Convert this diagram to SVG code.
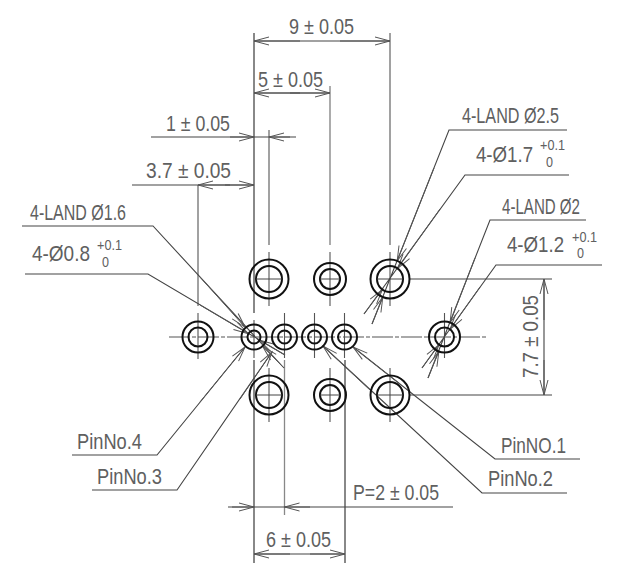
<svg xmlns="http://www.w3.org/2000/svg" width="620" height="574" viewBox="0 0 620 574">
<style>
text{font-family:"Liberation Sans",Arial,sans-serif;font-size:21.500px;fill:#606060}
.s{font-size:14.500px}
.o{fill:none;stroke:#111;stroke-width:2}
.c{fill:none;stroke:#444;stroke-width:1}
.l{fill:none;stroke:#444;stroke-width:1.1}
.e{fill:none;stroke:#888;stroke-width:2}
.d{fill:none;stroke:#555;stroke-width:1.1}
.a{fill:none;stroke:#555;stroke-width:1;marker-end:url(#h)}
</style>
<defs>
<marker id="h" markerUnits="userSpaceOnUse" markerWidth="20" markerHeight="12" refX="16" refY="6" orient="auto" overflow="visible"><path d="M1 2 L16 6 L1 10" fill="none" stroke="#555" stroke-width="1"/></marker>
</defs>
<g id="connectors">
<path class="d" d="M390 33V245M390 252V306"/>
<path class="e" d="M330 86V245" style="stroke-width:1.4"/>
<path class="d" d="M330 252V306M330 368V422M269 130V245M269 252V306M269 368V422M390 368V422"/>
<path class="e" d="M254 33V313M254 360V563M345 360V563"/>
<path class="e" d="M284.500 360V515" style="stroke-width:1.3"/>
<path class="d" d="M198 185V306M198 313V359M254 320V358M284.500 313V358M314.500 313V358M344.500 313V358M444.500 313V358"/>
<path class="d" d="M169 337H486" stroke-dasharray="21 2 4 2"/>
<path class="l" d="M254 41H390M254 93H330M151 137H296M132 185H254M228 507H453M254 554H345M410 279H552M410 395H552M544 279V395"/>
<path class="a" d="M300 41H254"/><path class="a" d="M340 41H390"/>
<path class="a" d="M300 93H254"/><path class="a" d="M290 93H330"/>
<path class="a" d="M230 137H254"/><path class="a" d="M290 137H269"/>
<path class="a" d="M230 185H198"/><path class="a" d="M225 185H254"/>
<path class="a" d="M232 507H254"/><path class="a" d="M310 507H284.500"/>
<path class="a" d="M290 554H254"/><path class="a" d="M310 554H345"/>
<path class="a" d="M544 320V279"/><path class="a" d="M544 360V395"/>
<path class="l" d="M567 130H449L372 324M569 175H465L364 314"/>
<path class="l" d="M586 220H490L428 378M602 265H496L422 368"/>
<path class="l" d="M22 226H153L284 368M25 274H148L285 355"/>
<path class="l" d="M72 455H157L245 347M92 490H177L272 352"/>
<path class="l" d="M580 459H495L353 347M567 493H482L323 346"/>
<path class="a" d="M434 168L397.200 260.900"/><path class="a" d="M372 324L382.800 297.100"/>
<path class="a" d="M440 209L397.600 268.500"/><path class="a" d="M364 314L382.400 289.500"/>
<path class="a" d="M475 258L450.100 322.600"/><path class="a" d="M428 378L438.900 351.400"/>
<path class="a" d="M480 287L450 329.300"/><path class="a" d="M422 368L439 344.700"/>
<path class="a" d="M200 277L245.200 327.400"/><path class="a" d="M284 368L262.800 346.600"/>
<path class="a" d="M200 305L248.400 333.700"/><path class="a" d="M285 355L259.600 340.300"/>
<path class="a" d="M200 402L245 347"/><path class="a" d="M240 399L272 352"/>
<path class="a" d="M400 384L353 347"/><path class="a" d="M370 390L323 346"/>
</g>
<g id="pad-top-left"><circle class="o" cx="269" cy="279" r="19.500"/><circle class="o" cx="269" cy="279" r="13"/><path class="c" d="M256 279H282"/></g>
<g id="pad-top-mid"><circle class="o" cx="330" cy="279" r="16"/><circle class="o" cx="330" cy="279" r="10"/><path class="c" d="M320 279H340"/></g>
<g id="pad-top-right"><circle class="o" cx="390" cy="279" r="19.500"/><circle class="o" cx="390" cy="279" r="13"/><path class="c" d="M377 279H403"/></g>
<g id="pad-bottom-left"><circle class="o" cx="269" cy="395" r="19.500"/><circle class="o" cx="269" cy="395" r="13"/><path class="c" d="M256 395H282"/></g>
<g id="pad-bottom-mid"><circle class="o" cx="330" cy="395" r="16"/><circle class="o" cx="330" cy="395" r="10"/><path class="c" d="M320 395H340"/></g>
<g id="pad-bottom-right"><circle class="o" cx="390" cy="395" r="19.500"/><circle class="o" cx="390" cy="395" r="13"/><path class="c" d="M377 395H403"/></g>
<g id="hole-left"><circle class="o" cx="198" cy="337" r="15.500"/><circle class="o" cx="198" cy="337" r="9.500"/></g>
<g id="hole-right"><circle class="o" cx="444.500" cy="337" r="15.500"/><circle class="o" cx="444.500" cy="337" r="9.500"/></g>
<g id="pin-4"><circle class="o" cx="254" cy="337" r="12.500"/><circle class="o" cx="254" cy="337" r="6.500"/></g>
<g id="pin-3"><circle class="o" cx="284.500" cy="337" r="12.500"/><circle class="o" cx="284.500" cy="337" r="6.500"/></g>
<g id="pin-2"><circle class="o" cx="314.500" cy="337" r="12.500"/><circle class="o" cx="314.500" cy="337" r="6.500"/></g>
<g id="pin-1"><circle class="o" cx="344.500" cy="337" r="12.500"/><circle class="o" cx="344.500" cy="337" r="6.500"/></g>
<g id="labels">
<text x="289" y="34" textLength="65" lengthAdjust="spacingAndGlyphs">9 ± 0.05</text>
<text x="258" y="87" textLength="65" lengthAdjust="spacingAndGlyphs">5 ± 0.05</text>
<text x="166" y="131" textLength="64" lengthAdjust="spacingAndGlyphs">1 ± 0.05</text>
<text x="146" y="178" textLength="85" lengthAdjust="spacingAndGlyphs">3.7 ± 0.05</text>
<text x="30" y="220" textLength="96" lengthAdjust="spacingAndGlyphs">4-LAND Ø1.6</text>
<text x="32" y="261" textLength="58" lengthAdjust="spacingAndGlyphs">4-Ø0.8</text>
<text class="s" x="97" y="250" textLength="25" lengthAdjust="spacingAndGlyphs">+0.1</text>
<text class="s" x="102" y="267" textLength="7" lengthAdjust="spacingAndGlyphs">0</text>
<text x="462" y="123" textLength="97" lengthAdjust="spacingAndGlyphs">4-LAND Ø2.5</text>
<text x="476" y="162" textLength="57" lengthAdjust="spacingAndGlyphs">4-Ø1.7</text>
<text class="s" x="540" y="150" textLength="25" lengthAdjust="spacingAndGlyphs">+0.1</text>
<text class="s" x="546" y="167" textLength="7" lengthAdjust="spacingAndGlyphs">0</text>
<text x="502" y="214" textLength="78" lengthAdjust="spacingAndGlyphs">4-LAND Ø2</text>
<text x="507" y="252" textLength="57" lengthAdjust="spacingAndGlyphs">4-Ø1.2</text>
<text class="s" x="572" y="242" textLength="25" lengthAdjust="spacingAndGlyphs">+0.1</text>
<text class="s" x="577" y="258" textLength="7" lengthAdjust="spacingAndGlyphs">0</text>
<text transform="translate(538 378) rotate(-90)" x="0" y="0" textLength="83" lengthAdjust="spacingAndGlyphs">7.7 ± 0.05</text>
<text x="501" y="453" textLength="65" lengthAdjust="spacingAndGlyphs">PinNO.1</text>
<text x="488" y="486" textLength="65" lengthAdjust="spacingAndGlyphs">PinNo.2</text>
<text x="97" y="484" textLength="65" lengthAdjust="spacingAndGlyphs">PinNo.3</text>
<text x="77" y="449" textLength="65" lengthAdjust="spacingAndGlyphs">PinNo.4</text>
<text x="353" y="500" textLength="86" lengthAdjust="spacingAndGlyphs">P=2 ± 0.05</text>
<text x="266" y="547" textLength="65" lengthAdjust="spacingAndGlyphs">6 ± 0.05</text>
</g>
</svg>
